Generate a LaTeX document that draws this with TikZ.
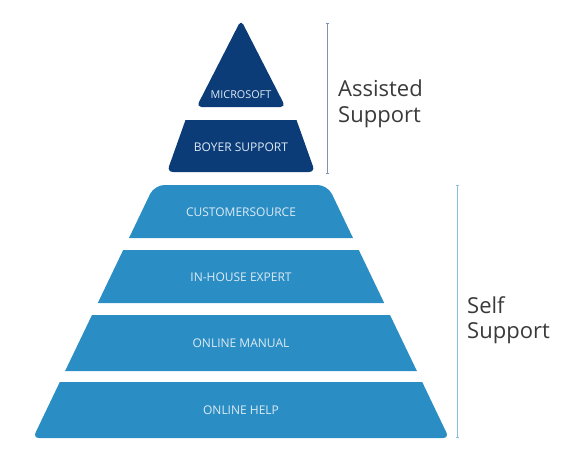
\documentclass[tikz,border=0pt]{standalone}
\usepackage{fontspec}
\setmainfont{Open Sans}
\definecolor{navy}{HTML}{0B3C78}
\definecolor{midblue}{HTML}{2A8EC4}
\definecolor{labelwhite}{HTML}{DDEAF5}
\definecolor{graytext}{HTML}{3A3A3A}
\definecolor{navyline}{HTML}{7F93B3}
\definecolor{blueline}{HTML}{8CC0E0}
\begin{document}
\begin{tikzpicture}[x=1pt,y=-1pt,
  darklayer/.style={fill=navy,draw=none},
  bluelayer/.style={fill=midblue,draw=none},
  layertext/.style={text=labelwhite,font=\fontsize{12}{14}\selectfont,inner sep=0pt,anchor=center},
  sidetext/.style={text=graytext,font=\fontsize{22}{25.5}\selectfont,align=left,anchor=west,inner sep=0pt},
  bracketline/.style={line width=0.8pt}]
\useasboundingbox (0,0) rectangle (575,460);
% dark pyramid
\fill[darklayer,rounded corners=5pt] (196.5,107) -- (241,20) -- (285.5,107) -- cycle;
\fill[darklayer] (185.5,120) -- (296.5,120) [rounded corners=6pt] -- (315,172) -- (167,172) [sharp corners] -- cycle;
\node[layertext,font=\fontsize{10.8}{13}\selectfont] (ms) at (241,94.5) {MICROSOFT};
\node[layertext] (boyer) at (241,147) {BOYER SUPPORT};
% blue pyramid
\fill[bluelayer] (129,238) [rounded corners=10pt] -- (154.4,185) -- (327.6,185) [sharp corners] -- (353,238) -- cycle;
\fill[bluelayer] (123.2,250) -- (358.8,250) -- (384.2,303) -- (97.8,303) -- cycle;
\fill[bluelayer] (92,315) -- (390,315) -- (416.9,371) -- (65.1,371) -- cycle;
\fill[bluelayer] (59.8,382) -- (422.2,382) [rounded corners=6pt] -- (449,438) -- (33,438) [sharp corners] -- cycle;
\node[layertext] (cs) at (241,212) {CUSTOMERSOURCE};
\node[layertext] (ih) at (241,277) {IN-HOUSE EXPERT};
\node[layertext] (om) at (241,343) {ONLINE MANUAL};
\node[layertext] (oh) at (241,410) {ONLINE HELP};
% brackets
\coordinate (at) at (327,23);
\coordinate (ab) at (327,173);
\coordinate (st) at (457,185);
\coordinate (sb) at (457,437);
\draw[bracketline,navyline] (at) -- (ab);
\draw[bracketline,navyline] ([xshift=-1.5pt]at) -- ([xshift=1.5pt]at);
\draw[bracketline,navyline] ([xshift=-1.5pt]ab) -- ([xshift=1.5pt]ab);
\draw[bracketline,blueline] (st) -- (sb);
\draw[bracketline,blueline] ([xshift=-1.5pt]st) -- ([xshift=1.5pt]st);
\draw[bracketline,blueline] ([xshift=-1.5pt]sb) -- ([xshift=1.5pt]sb);
\node[sidetext] (assisted) at (338,104) {Assisted\\Support};
\node[sidetext] (self) at (467,320) {Self\\Support};
\end{tikzpicture}
\end{document}
